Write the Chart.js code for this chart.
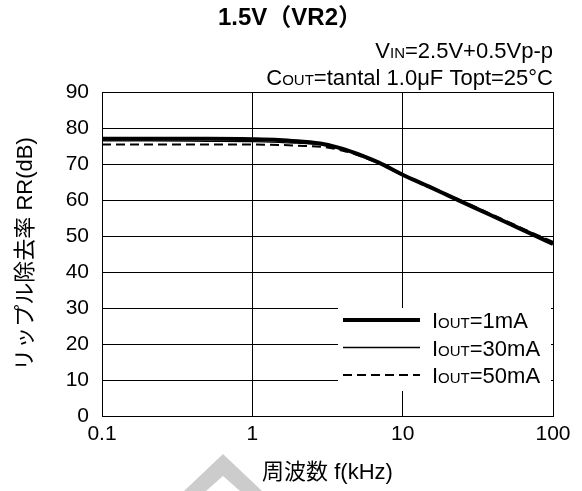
<!DOCTYPE html>
<html>
<head>
<meta charset="utf-8">
<script src="https://cdn.jsdelivr.net/npm/chart.js@4/dist/chart.umd.min.js"></script>
<style>
  body { margin: 0; background: #fff; }
</style>
</head>
<body>
<canvas id="rrChart" width="582" height="491"></canvas>
<script>
// 周波数 (kHz)
const freqs = [0.1, 0.2, 0.5, 1, 1.5, 2, 3, 4, 5, 7, 10, 15, 20, 30, 50, 70, 100];
// リップル除去率 RR(dB)
const rr1mA  = [77.0, 77.0, 77.0, 76.9, 76.7, 76.3, 75.5, 74.2, 72.8, 70.3, 67.0, 63.7, 61.3, 57.9, 53.6, 50.8, 47.8];
const rr30mA = [76.4, 76.4, 76.3, 76.2, 76.0, 75.8, 75.2, 74.0, 72.7, 70.2, 67.0, 63.8, 61.4, 58.0, 53.8, 51.0, 48.1];
const rr50mA = [75.4, 75.4, 75.4, 75.4, 75.3, 75.1, 74.7, 73.7, 72.5, 70.1, 66.9, 63.8, 61.5, 58.2, 54.0, 51.2, 48.4];
const currents = ['1mA', '30mA', '50mA'];
const xTicks = [0.1, 1, 10, 100];

const FONT = "'Liberation Sans', 'Noto Sans CJK JP', sans-serif";

function toPoints(ys) {
    return freqs.map((f, i) => ({ x: f, y: ys[i] }));
}

// 大小フォント混在の文字列を描く (parts: [文字, サイズ])
function drawParts(ctx, parts, x, y, align) {
    let total = 0;
    parts.forEach(p => {
        ctx.font = p[1] + 'px ' + FONT;
        total += ctx.measureText(p[0]).width;
    });
    let cx = align === 'right' ? x - total : x;
    ctx.textAlign = 'left';
    ctx.textBaseline = 'alphabetic';
    parts.forEach(p => {
        ctx.font = p[1] + 'px ' + FONT;
        ctx.fillText(p[0], cx, y);
        cx += ctx.measureText(p[0]).width;
    });
}

// タイトル・条件・凡例
const labelPlugin = {
    id: 'labels',
    afterDatasetsDraw(chart) {
        const ctx = chart.ctx;
        ctx.save();
        ctx.fillStyle = '#000';

        ctx.font = 'bold 24px ' + FONT;
        ctx.textAlign = 'center';
        ctx.textBaseline = 'middle';
        ctx.fillText('1.5V（VR2）', 290, 18);

        drawParts(ctx, [['V', 22], ['IN', 15], ['=2.5V+0.5Vp-p', 22]], 553, 58, 'right');
        drawParts(ctx, [['C', 22], ['OUT', 15], ['=tantal 1.0μF Topt=25°C', 22]], 553, 85, 'right');

        // 凡例
        ctx.fillStyle = '#fff';
        ctx.fillRect(338, 308, 213, 83);
        chart.data.datasets.forEach((ds, i) => {
            const y = 320 + i * 27.5;
            ctx.strokeStyle = ds.borderColor;
            ctx.lineWidth = ds.borderWidth;
            ctx.setLineDash(ds.borderDash || []);
            ctx.beginPath();
            ctx.moveTo(343, y);
            ctx.lineTo(420, y);
            ctx.stroke();
            ctx.setLineDash([]);
            ctx.fillStyle = '#000';
            drawParts(ctx, [['I', 22], ['OUT', 15], ['=' + currents[i], 22]], 432, y + 8, 'left');
        });

        // 下部の飾り
        ctx.fillStyle = '#cccccc';
        ctx.beginPath();
        ctx.moveTo(223, 454);
        ctx.lineTo(262, 491);
        ctx.lineTo(240, 491);
        ctx.lineTo(223, 476);
        ctx.lineTo(206, 491);
        ctx.lineTo(184, 491);
        ctx.closePath();
        ctx.fill();
        ctx.restore();
    }
};

const ctx = document.getElementById('rrChart').getContext('2d');
const chart = new Chart(ctx, {
    type: 'line',
    data: {
        datasets: [{
            label: 'IOUT=' + currents[0],
            data: toPoints(rr1mA),
            borderColor: '#000',
            borderWidth: 4,
            pointRadius: 0,
            cubicInterpolationMode: 'monotone'
        }, {
            label: 'IOUT=' + currents[1],
            data: toPoints(rr30mA),
            borderColor: '#000',
            borderWidth: 1.3,
            pointRadius: 0,
            cubicInterpolationMode: 'monotone'
        }, {
            label: 'IOUT=' + currents[2],
            data: toPoints(rr50mA),
            borderColor: '#000',
            borderWidth: 2,
            borderDash: [9, 5],
            pointRadius: 0,
            cubicInterpolationMode: 'monotone'
        }]
    },
    options: {
        responsive: false,
        animation: false,
        layout: { padding: { top: 92, right: 29, left: 0, bottom: 0 } },
        plugins: {
            legend: { display: false },
            tooltip: { enabled: false }
        },
        scales: {
            x: {
                type: 'logarithmic',
                min: 0.1,
                max: 100,
                afterBuildTicks: s => { s.ticks = xTicks.map(v => ({ value: v })); },
                afterFit: s => { s.height = 75; },
                grid: { color: '#000', lineWidth: 1, drawTicks: false },
                border: { color: '#000', width: 1 },
                ticks: {
                    color: '#000',
                    font: { family: FONT, size: 21 },
                    padding: 6,
                    maxRotation: 0,
                    autoSkip: false,
                    callback: v => String(v)
                },
                title: {
                    display: true,
                    text: '周波数 f(kHz)',
                    color: '#000',
                    font: { family: FONT, size: 22 },
                    padding: { top: 0, bottom: 5 }
                }
            },
            y: {
                min: 0,
                max: 90,
                afterFit: s => { s.width = 102; },
                grid: { color: '#000', lineWidth: 1, drawTicks: false },
                border: { color: '#000', width: 1 },
                ticks: {
                    stepSize: 10,
                    color: '#000',
                    font: { family: FONT, size: 21 },
                    padding: 13
                },
                title: {
                    display: true,
                    text: 'リップル除去率 RR(dB)',
                    color: '#000',
                    font: { family: FONT, size: 22 },
                    padding: { top: 13, bottom: 0 }
                }
            }
        }
    },
    plugins: [labelPlugin]
});
</script>
</body>
</html>
